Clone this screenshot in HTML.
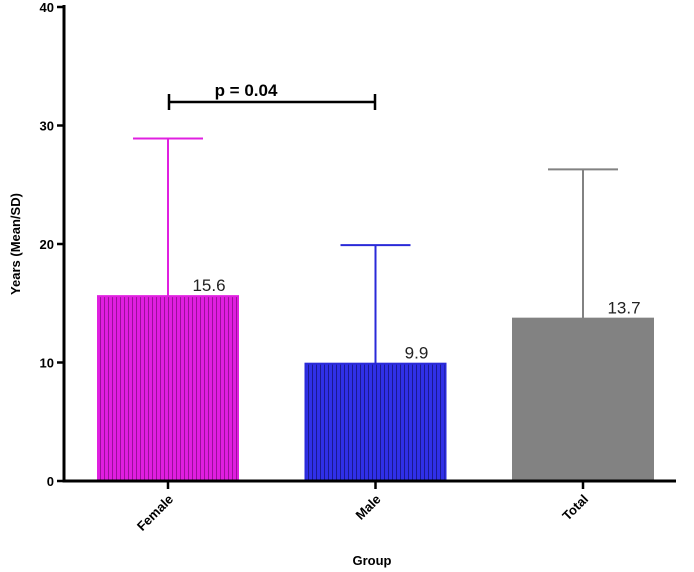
<!DOCTYPE html>
<html><head><meta charset="utf-8"><style>
body{margin:0;background:#fff;}
svg{display:block;font-family:"Liberation Sans",Arial,sans-serif;}
</style></head><body>
<svg id="chart" width="694" height="572" viewBox="0 0 694 572" xmlns="http://www.w3.org/2000/svg">
<defs>
<pattern id="pf" width="4" height="4" patternUnits="userSpaceOnUse"><rect width="4" height="4" fill="#e01ee0"/><rect width="1" height="4" fill="#9a109a"/></pattern>
<pattern id="pm" width="4" height="4" patternUnits="userSpaceOnUse"><rect width="4" height="4" fill="#3030e8"/><rect width="1" height="4" fill="#1a1a90"/></pattern>
</defs>
<g id="plot"></g>
</svg>
<script>
const categories = ["Female","Male","Total"];
const means = [15.6, 9.9, 13.7];
const sds = [13.3, 10.0, 12.6];
const valueLabels = ["15.6","9.9","13.7"];
const yTicks = [0,10,20,30,40];
const fills = ["url(#pf)","url(#pm)","#828282"];
const strokes = ["#e020e0","#2a2ad8","#828282"];
const ns="http://www.w3.org/2000/svg";
const g=document.getElementById('plot');
const y0=481, pxPerUnit=(481-7)/40;
const yS=v=>y0-v*pxPerUnit;
const xC=i=>168+i*207.5;
const bw=140;
function el(t,a,p){const e=document.createElementNS(ns,t);for(const k in a)e.setAttribute(k,a[k]);(p||g).appendChild(e);return e;}
categories.forEach((c,i)=>{
  const top=yS(means[i]);
  const eb=el('line',{x1:xC(i),x2:xC(i),y1:top,y2:yS(means[i]+sds[i]),stroke:strokes[i],'stroke-width':2});
  
  
  const cap=el('line',{x1:xC(i)-35,x2:xC(i)+35,y1:yS(means[i]+sds[i]),y2:yS(means[i]+sds[i]),stroke:strokes[i],'stroke-width':2});
  
  
  const r=el('rect',{x:xC(i)-bw/2,y:top,width:bw,height:y0-top,fill:fills[i],stroke:strokes[i],'stroke-width':2});
  
  
  const t=el('text',{x:xC(i)+41,y:top-5,'font-size':17,fill:'#222','text-anchor':'middle'});
  t.textContent=valueLabels[i];
  
  
  const tk=el('line',{x1:xC(i),x2:xC(i),y1:y0,y2:y0+8,stroke:'#000','stroke-width':2.5});
  
  
  const lb=el('text',{transform:`translate(${xC(i)+6},${y0+19}) rotate(-45)`,'font-size':13,'font-weight':'bold','text-anchor':'end',fill:'#000'});
  lb.textContent=c;
  
  
});
const ya=el('line',{x1:64,x2:64,y1:5,y2:y0+1.5,stroke:'#000','stroke-width':3});


const xa=el('line',{x1:62.5,x2:676,y1:y0,y2:y0,stroke:'#000','stroke-width':3});


yTicks.forEach(v=>{
  const t=el('line',{x1:57,x2:64,y1:yS(v),y2:yS(v),stroke:'#000','stroke-width':2.5});
  
  
  const l=el('text',{x:54,y:yS(v)+5,'font-size':13,'font-weight':'bold','text-anchor':'end'});
  l.textContent=v;
  
  
});
const yt=el('text',{transform:'translate(20,244) rotate(-90)','font-size':13,'font-weight':'bold','text-anchor':'middle'});
yt.textContent='Years (Mean/SD)';


const xt=el('text',{x:372,y:565,'font-size':13,'font-weight':'bold','text-anchor':'middle'});
xt.textContent='Group';


const br=el('path',{d:'M169,94 V110 M169,102 H375 M375,94 V110',stroke:'#000','stroke-width':2.5,fill:'none'});


const pt=el('text',{x:246,y:96,'font-size':17,'font-weight':'bold','text-anchor':'middle'});
pt.textContent='p = 0.04';


</script>
</body></html>
